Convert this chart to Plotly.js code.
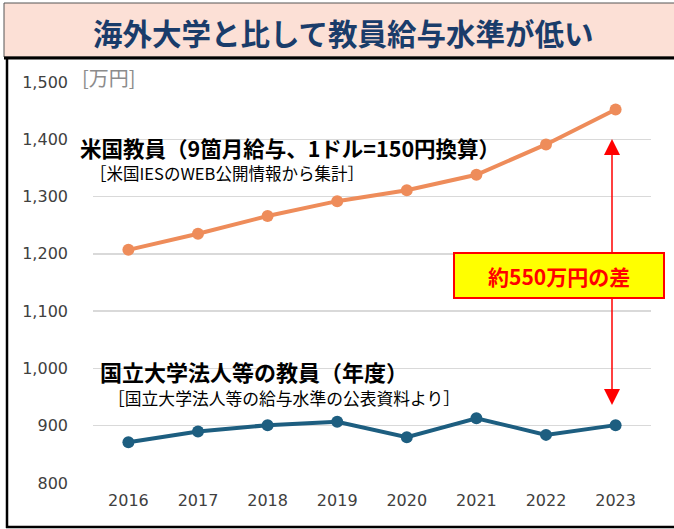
<!DOCTYPE html>
<html><head><meta charset="utf-8">
<script src="https://cdn.plot.ly/plotly-3.0.1.min.js"></script>
<style>html,body{margin:0;padding:0;background:#fff}#c{width:674px;height:529px}</style>
</head><body><div id="c"></div>
<script>
const years = ['2016','2017','2018','2019','2020','2021','2022','2023'];
const usSalary = [1207, 1235, 1266, 1292, 1311, 1338, 1391, 1452];
const jpSalary = [871, 890, 901, 907, 880, 913, 884, 901];
const yTicks = [800, 900, 1000, 1100, 1200, 1300, 1400, 1500];

const W=674,H=529,L=93,R=651,T=82,B=483;
const px=x=>(x-L)/(R-L), py=y=>(B-y)/(B-T);
const JP='"Noto Sans CJK JP", sans-serif';

const traces=[
 {x:years,y:usSalary,type:'scatter',mode:'lines+markers',line:{color:'#ee8c5a',width:4},marker:{color:'#ee8c5a',size:12},hoverinfo:'skip'},
 {x:years,y:jpSalary,type:'scatter',mode:'lines+markers',line:{color:'#1d5e80',width:4},marker:{color:'#1d5e80',size:12},hoverinfo:'skip'}
];
const shapes=[
 {type:'rect',xref:'paper',yref:'paper',x0:px(4),x1:px(675),y0:py(3),y1:py(57),fillcolor:'#fce0d6',line:{color:'#555',width:1},layer:'below'},
 {type:'line',xref:'paper',yref:'paper',x0:px(4),x1:px(675),y0:py(58),y1:py(58),line:{color:'#000',width:3}},
 {type:'line',xref:'paper',yref:'paper',x0:px(7),x1:px(7),y0:py(57),y1:py(528),line:{color:'#000',width:2.5}},
 {type:'line',xref:'paper',yref:'paper',x0:px(6),x1:px(675),y0:py(527),y1:py(527),line:{color:'#000',width:2.5}},
 {type:'line',xref:'paper',yref:'paper',x0:px(612),x1:px(612),y0:py(152),y1:py(390),line:{color:'#ff0000',width:1.5}},
 {type:'path',xref:'paper',yref:'paper',path:`M ${px(612)} ${py(139)} L ${px(604)} ${py(155)} L ${px(620)} ${py(155)} Z`,fillcolor:'#ff0000',line:{width:0}},
 {type:'path',xref:'paper',yref:'paper',path:`M ${px(612)} ${py(405)} L ${px(604)} ${py(389)} L ${px(620)} ${py(389)} Z`,fillcolor:'#ff0000',line:{width:0}},
 {type:'rect',xref:'paper',yref:'paper',x0:px(454),x1:px(664),y0:py(253),y1:py(298),fillcolor:'#ffff00',line:{color:'#ff0000',width:2}}
];
const ann=(text,x,y,size,opts={})=>Object.assign({text,xref:'paper',yref:'paper',x:px(x),y:py(y),xanchor:'left',yanchor:'middle',showarrow:false,font:{family:JP,size,color:'#000'}},opts);
const annotations=[
 ann('<b>海外大学と比して教員給与水準が低い</b>',343,32,29.5,{xanchor:'center',font:{family:JP,size:29.5,color:'#1a3c6a'}}),
 ann('[万円]',80,78,20,{font:{family:JP,size:20,color:'#8c8c8c'}}),
 ann('<b>米国教員（9箇月給与、1ドル=150円換算）</b>',78,147,21.5),
 ann('［米国IESのWEB公開情報から集計］',88,173,16.5),
 ann('<b>国立大学法人等の教員（年度）</b>',98,371,22),
 ann('［国立大学法人等の給与水準の公表資料より］',106,398,16.8),
 ann('<b>約550万円の差</b>',559,276,21,{xanchor:'center',font:{family:JP,size:21,color:'#ff0000'}})
];
const layout={
 width:W,height:H,margin:{l:L,r:W-R,t:T,b:H-B,pad:0},
 paper_bgcolor:'#fff',plot_bgcolor:'#fff',showlegend:false,
 xaxis:{type:'category',showgrid:false,zeroline:false,showline:false,ticks:'',
   tickfont:{family:'DejaVu Sans',size:16,color:'#404040'},ticklabelstandoff:6,fixedrange:true},
 yaxis:{range:[800,1500],tickvals:yTicks,tickformat:',',showgrid:true,gridcolor:'#d9d9d9',gridwidth:1.5,
   zeroline:false,showline:false,ticks:'',tickfont:{family:'DejaVu Sans',size:16,color:'#404040'},ticklabelstandoff:24,fixedrange:true},
 shapes,annotations
};
Plotly.newPlot('c',traces,layout,{displayModeBar:false,staticPlot:true});
</script></body></html>
